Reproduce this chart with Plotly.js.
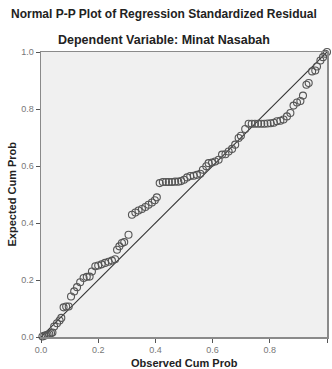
<!DOCTYPE html>
<html>
<head>
<meta charset="utf-8">
<script src="https://cdn.plot.ly/plotly-3.0.1.min.js"></script>
<style>html,body{margin:0;padding:0;background:#fff;}#chart{width:332px;height:369px;}</style>
</head>
<body>
<div id="chart"></div>
<script>
var chartTitle = "Normal P-P Plot of Regression Standardized Residual";
var chartSubtitle = "Dependent Variable: Minat Nasabah";
var xAxisTitle = "Observed Cum Prob";
var yAxisTitle = "Expected Cum Prob";
var tickValues = [0, 0.2, 0.4, 0.6, 0.8, 1.0];
var tickLabels = ["0.0", "0.2", "0.4", "0.6", "0.8", "1.0"];

var observedCumProb = [0.005,0.011,0.017,0.023,0.029,0.035,0.040,0.046,0.056,0.065,0.071,0.079,0.088,0.097,0.105,0.116,0.126,0.137,0.149,0.160,0.170,0.178,0.190,0.200,0.212,0.224,0.236,0.248,0.259,0.266,0.274,0.283,0.291,0.306,0.318,0.330,0.341,0.353,0.365,0.376,0.388,0.398,0.405,0.415,0.426,0.437,0.447,0.458,0.469,0.480,0.490,0.500,0.511,0.522,0.534,0.545,0.557,0.566,0.578,0.586,0.598,0.609,0.621,0.633,0.645,0.656,0.668,0.679,0.691,0.699,0.714,0.726,0.737,0.748,0.759,0.770,0.781,0.792,0.803,0.814,0.825,0.837,0.848,0.860,0.872,0.883,0.895,0.907,0.916,0.928,0.936,0.948,0.959,0.965,0.977,0.986,0.994,1.000];
var expectedCumProb = [0.002,0.004,0.006,0.008,0.010,0.013,0.016,0.037,0.048,0.058,0.067,0.104,0.107,0.107,0.142,0.160,0.175,0.192,0.207,0.211,0.212,0.230,0.248,0.251,0.255,0.260,0.264,0.268,0.273,0.306,0.318,0.330,0.333,0.359,0.429,0.437,0.444,0.449,0.456,0.464,0.472,0.480,0.490,0.540,0.544,0.544,0.544,0.544,0.545,0.545,0.547,0.552,0.560,0.565,0.566,0.569,0.573,0.587,0.599,0.610,0.612,0.616,0.622,0.640,0.641,0.651,0.660,0.675,0.698,0.706,0.730,0.748,0.748,0.748,0.748,0.748,0.748,0.749,0.750,0.752,0.757,0.759,0.763,0.774,0.786,0.812,0.823,0.828,0.847,0.885,0.891,0.932,0.935,0.949,0.970,0.982,0.994,1.000];
var refLineX = [0, 1];
var refLineY = [0, 1];

var traces = [
  {x: refLineX, y: refLineY, type: "scatter", mode: "lines",
   line: {color: "#333333", width: 1.1}, hoverinfo: "skip", cliponaxis: false},
  {x: observedCumProb, y: expectedCumProb, type: "scatter", mode: "markers",
   marker: {symbol: "circle-open", size: 7, color: "#555555", line: {width: 1.1, color: "#555555"}},
   cliponaxis: false}
];

var axisCommon = {
  range: [0, 1], tickvals: tickValues, ticktext: tickLabels,
  showgrid: false, zeroline: false, showline: true, mirror: true,
  linecolor: "#8a8a8a", linewidth: 1.5, ticks: "outside", ticklen: 4,
  tickcolor: "#555555", tickwidth: 1,
  tickfont: {family: "Liberation Sans, Arial, sans-serif", size: 9, color: "#777777"},
  fixedrange: true
};

var layout = {
  width: 332, height: 369,
  margin: {l: 41, r: 5, t: 52, b: 32},
  paper_bgcolor: "#ffffff", plot_bgcolor: "#f0f0f0",
  showlegend: false,
  xaxis: Object.assign({}, axisCommon),
  yaxis: Object.assign({}, axisCommon),
  font: {family: "Liberation Sans, Arial, sans-serif"},
  annotations: [
    {text: "<b>" + chartTitle + "</b>", xref: "paper", yref: "paper",
     x: 0.43, y: 1, yshift: 38, xanchor: "center", yanchor: "middle", showarrow: false,
     font: {size: 12, color: "#222222"}},
    {text: "<b>" + chartSubtitle + "</b>", xref: "paper", yref: "paper",
     x: 0.43, y: 1, yshift: 12, xanchor: "center", yanchor: "middle", showarrow: false,
     font: {size: 12.5, color: "#222222"}},
    {text: "<b>" + xAxisTitle + "</b>", xref: "paper", yref: "paper",
     x: 0.5, y: 0, yshift: -26, xanchor: "center", yanchor: "middle", showarrow: false,
     font: {size: 11, color: "#222222"}},
    {text: "<b>" + yAxisTitle + "</b>", xref: "paper", yref: "paper",
     x: 0, xshift: -30, y: 0.5, xanchor: "center", yanchor: "middle", showarrow: false,
     textangle: -90, font: {size: 11, color: "#222222"}}
  ]
};

Plotly.newPlot("chart", traces, layout, {displayModeBar: false, staticPlot: true});
</script>
</body>
</html>
